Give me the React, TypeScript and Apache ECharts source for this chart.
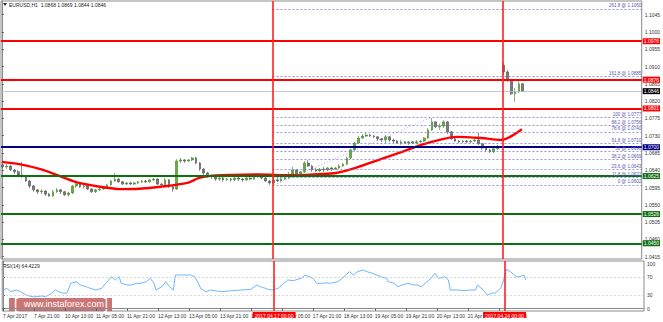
import React, { useEffect, useRef } from "react";
import * as echarts from "echarts";

const FONT = "'Liberation Sans', Arial, sans-serif";

// ---- axis / scale data ----
const X_MIN = -0.4; // hourly bar slots
const X_MAX = 331;
const PRICE_MIN = 1.0409;
const PRICE_MAX = 1.10807;
const RSI_MIN = -5.1;
const RSI_MAX = 106.7;

const priceTicks = [1.0415, 1.046, 1.0505, 1.055, 1.0595, 1.064, 1.0685, 1.073, 1.0775, 1.082, 1.0865, 1.091, 1.0955, 1.1, 1.1045];
const rsiTicks = [0, 30, 70, 100];
const timeLabelSlots = [0, 16, 32, 48, 64, 80, 96, 112, 128, 144, 160, 176, 192, 208, 224, 240, 256];
const timeLabels = [
  "7 Apr 2017", "7 Apr 21:00", "10 Apr 13:00", "11 Apr 05:00", "11 Apr 21:00", "12 Apr 13:00",
  "13 Apr 05:00", "13 Apr 21:00", "14 Apr 13:00", "17 Apr 05:00", "17 Apr 21:00", "18 Apr 13:00",
  "19 Apr 05:00", "19 Apr 21:00", "20 Apr 13:00", "21 Apr 05:00", "21 Apr 21:00",
];

// ---- header ----
const symbolTitle = "EURUSD,H1";
const lastBarOHLC = [1.0868, 1.0869, 1.0844, 1.0846];
const rsiTitle = "RSI(14) 64.4229";

// ---- candles: [open, close, low, high], 2-hour bars starting at slot 0 ----
const weekCandleStartSlot = 0;
const weekCandles = [
  [1.0654, 1.0649, 1.0646, 1.0656], [1.0649, 1.0651, 1.0643, 1.0656], [1.0651, 1.0641, 1.0638, 1.0654],
  [1.0641, 1.0636, 1.063, 1.0643], [1.0636, 1.0628, 1.0625, 1.0641], [1.0628, 1.0625, 1.062, 1.0662],
  [1.0625, 1.0612, 1.061, 1.0628], [1.0612, 1.0599, 1.0594, 1.0615], [1.0599, 1.0589, 1.0584, 1.0602],
  [1.0589, 1.0584, 1.0578, 1.0591], [1.0584, 1.0586, 1.0578, 1.0591], [1.0586, 1.0578, 1.0573, 1.0589],
  [1.0578, 1.0573, 1.0571, 1.0581], [1.0573, 1.0584, 1.0571, 1.0589], [1.0584, 1.0589, 1.0581, 1.0594],
  [1.0589, 1.0584, 1.0578, 1.0591], [1.0584, 1.0576, 1.0573, 1.0586], [1.0576, 1.0581, 1.0571, 1.0584],
  [1.0581, 1.0599, 1.0578, 1.0602], [1.0599, 1.0604, 1.0594, 1.0607], [1.0604, 1.0597, 1.0594, 1.0607],
  [1.0597, 1.0599, 1.0591, 1.0602], [1.0599, 1.0591, 1.0589, 1.0602], [1.0591, 1.0584, 1.0581, 1.0594],
  [1.0584, 1.0589, 1.0581, 1.0591], [1.0589, 1.0591, 1.0586, 1.0594], [1.0591, 1.0594, 1.0589, 1.0597],
  [1.0594, 1.0602, 1.0591, 1.0604], [1.0602, 1.0612, 1.0599, 1.0615], [1.0612, 1.0617, 1.061, 1.0633],
  [1.0617, 1.061, 1.0607, 1.062], [1.061, 1.0604, 1.0602, 1.0612], [1.0604, 1.0607, 1.0602, 1.061],
  [1.0607, 1.0604, 1.0602, 1.061], [1.0604, 1.0607, 1.0602, 1.061], [1.0607, 1.061, 1.0604, 1.0612],
  [1.061, 1.0612, 1.0607, 1.0615], [1.0612, 1.061, 1.0607, 1.0615], [1.061, 1.0615, 1.0607, 1.0617],
  [1.0615, 1.0617, 1.0612, 1.062], [1.0617, 1.0604, 1.0602, 1.062], [1.0604, 1.0602, 1.0597, 1.0607],
  [1.0602, 1.0615, 1.0599, 1.062], [1.0615, 1.0597, 1.0594, 1.0617], [1.0597, 1.0591, 1.0584, 1.0599],
  [1.0591, 1.0664, 1.0589, 1.0669], [1.0664, 1.0667, 1.0659, 1.0672], [1.0667, 1.0664, 1.0659, 1.0669],
  [1.0664, 1.0667, 1.0662, 1.0669], [1.0667, 1.0672, 1.0664, 1.0675], [1.0672, 1.0659, 1.0656, 1.0675],
  [1.0659, 1.0643, 1.0638, 1.0662], [1.0643, 1.0633, 1.0628, 1.0646], [1.0633, 1.0625, 1.062, 1.0636],
  [1.0625, 1.0623, 1.0617, 1.0628], [1.0623, 1.0617, 1.0612, 1.0625], [1.0617, 1.062, 1.0612, 1.0623],
  [1.062, 1.0615, 1.061, 1.0623], [1.0615, 1.0617, 1.0612, 1.062], [1.0617, 1.0615, 1.061, 1.062],
  [1.0615, 1.062, 1.0612, 1.0623], [1.062, 1.0617, 1.0612, 1.0623], [1.0617, 1.0615, 1.061, 1.062],
  [1.0615, 1.062, 1.0612, 1.0623], [1.062, 1.0617, 1.0615, 1.0623], [1.0617, 1.0623, 1.0615, 1.0628],
  [1.0623, 1.0625, 1.062, 1.0628], [1.0625, 1.062, 1.0617, 1.0628], [1.062, 1.0612, 1.061, 1.0623],
  [1.0612, 1.0607, 1.0602, 1.0615], [1.0607, 1.0615, 1.0604, 1.062], [1.0615, 1.0612, 1.061, 1.062],
  [1.0612, 1.0617, 1.061, 1.0623], [1.0617, 1.062, 1.0615, 1.0623], [1.062, 1.063, 1.0617, 1.0636],
  [1.063, 1.0641, 1.0625, 1.0649], [1.0641, 1.0628, 1.0625, 1.0643], [1.0628, 1.0636, 1.0623, 1.0638],
  [1.0636, 1.0659, 1.0633, 1.0664], [1.0659, 1.0651, 1.0649, 1.0667], [1.0651, 1.0641, 1.0636, 1.0654],
  [1.0641, 1.0638, 1.0636, 1.0646], [1.0638, 1.0643, 1.0636, 1.0646], [1.0643, 1.0641, 1.0636, 1.0649],
  [1.0641, 1.0646, 1.0638, 1.0649], [1.0646, 1.0643, 1.0638, 1.0649], [1.0643, 1.0646, 1.0641, 1.0649],
  [1.0646, 1.0651, 1.0643, 1.0656], [1.0651, 1.0656, 1.0649, 1.0659], [1.0656, 1.0672, 1.0654, 1.0675],
  [1.0672, 1.0693, 1.0669, 1.0696], [1.0693, 1.0711, 1.069, 1.0714], [1.0711, 1.0724, 1.0709, 1.0729],
  [1.0724, 1.0729, 1.0722, 1.0734], [1.0729, 1.0732, 1.0727, 1.0737], [1.0732, 1.0729, 1.0727, 1.0734],
  [1.0729, 1.0727, 1.0724, 1.0732], [1.0727, 1.0722, 1.0716, 1.0729], [1.0722, 1.0719, 1.0714, 1.0724],
  [1.0719, 1.0727, 1.0711, 1.0732], [1.0727, 1.0719, 1.0714, 1.0729], [1.0719, 1.0716, 1.0711, 1.0722],
  [1.0716, 1.0711, 1.0709, 1.0719], [1.0711, 1.0714, 1.0706, 1.0719], [1.0714, 1.0711, 1.0709, 1.0716],
  [1.0711, 1.0714, 1.0706, 1.0716], [1.0714, 1.0711, 1.0709, 1.0716], [1.0711, 1.0714, 1.0709, 1.0719],
  [1.0714, 1.0716, 1.0711, 1.0719], [1.0716, 1.0724, 1.0714, 1.0727], [1.0724, 1.0745, 1.0722, 1.075],
  [1.0745, 1.0766, 1.0742, 1.0776], [1.0766, 1.0753, 1.075, 1.0768], [1.0753, 1.0755, 1.0745, 1.0761],
  [1.0755, 1.0766, 1.075, 1.0771], [1.0766, 1.074, 1.0734, 1.0768], [1.074, 1.0722, 1.0719, 1.0742],
  [1.0722, 1.0716, 1.0714, 1.0724], [1.0716, 1.0714, 1.0711, 1.0719], [1.0714, 1.0716, 1.0711, 1.0719],
  [1.0716, 1.0714, 1.0711, 1.0719], [1.0714, 1.0716, 1.0711, 1.0719], [1.0716, 1.0719, 1.0714, 1.0722],
  [1.0719, 1.0709, 1.0706, 1.0737], [1.0709, 1.0698, 1.0693, 1.0711], [1.0698, 1.0693, 1.069, 1.0701],
  [1.0693, 1.0688, 1.0685, 1.0696], [1.0688, 1.0696, 1.0685, 1.0698], [1.0696, 1.0701, 1.0693, 1.0706],
];
const mondayCandleStartSlot = 259;
const mondayCandles = [
  [1.0914, 1.0896, 1.0888, 1.0919], [1.0896, 1.0875, 1.087, 1.0901], [1.0875, 1.0839, 1.0836, 1.0878],
  [1.0839, 1.0844, 1.0818, 1.0854], [1.0844, 1.0865, 1.0841, 1.0875], [1.0865, 1.0846, 1.0844, 1.0867],
];

// ---- moving average (red) ----
const maSlots = [0, 9, 20, 30, 40, 51, 61, 71, 82, 96, 102, 109, 119, 133, 149, 164, 173, 183, 195, 207, 217, 228, 235, 248, 258, 269];
const maValues = [1.0662, 1.0656, 1.0643, 1.0625, 1.0607, 1.0597, 1.0591, 1.0592, 1.0597, 1.0607, 1.062, 1.0626, 1.0628, 1.0629, 1.0627, 1.063, 1.0633, 1.0646, 1.0667, 1.0688, 1.0706, 1.0721, 1.0727, 1.0724, 1.0719, 1.0747];

// ---- RSI(14) ----
const rsiSlots = [0, 2, 4, 7, 9, 12, 15, 17, 20, 22, 25, 27, 30, 33, 35, 38, 40, 43, 45, 48, 51, 53, 56, 58, 60, 61, 64, 66, 69, 71, 74, 76, 78, 79, 82, 84, 86, 88, 89, 92, 97, 99, 101, 102, 105, 107, 113, 118, 123, 128, 131, 133, 137, 139, 142, 145, 147, 150, 151, 154, 156, 160, 162, 164, 167, 169, 173, 176, 179, 181, 183, 186, 188, 191, 195, 198, 199, 202, 204, 206, 209, 212, 214, 216, 218, 221, 223, 225, 228, 230, 231, 235, 238, 241, 244, 245, 248, 250, 253, 254, 256, 257, 258, 260, 262, 265, 267, 269, 270];
const rsiValues = [41.8, 45.6, 38, 42, 38, 30.6, 26.8, 26.8, 28.4, 26.8, 34.4, 41.8, 35.8, 34.4, 56.8, 60.4, 53, 49.2, 45.6, 41.8, 45.6, 56.8, 71.6, 64.2, 71.6, 56.8, 53, 53, 56.8, 56.8, 60.4, 68, 56.8, 41.8, 49.2, 60.4, 49.2, 41.8, 75.4, 75.4, 75.4, 71.6, 56.8, 45.6, 38, 41.8, 38, 40.3, 41.8, 43.4, 53, 49.2, 43.4, 41.8, 45.6, 56.8, 64.2, 62.7, 64.2, 68, 75.4, 68, 56.8, 56.8, 57.5, 57, 60.4, 71.6, 82.8, 75.4, 82.8, 86.6, 82.8, 79, 71.6, 68, 60.4, 56.8, 49.2, 53, 56.8, 53, 53, 49.2, 56.8, 68, 79, 68, 71.6, 64.2, 41.8, 41.8, 40.3, 41.8, 41.8, 53, 41.8, 30.6, 35.8, 34.4, 41.8, 45.6, 56.8, 88, 82.8, 71.6, 71.6, 75.4, 64.4];
const rsiLevels = [70, 30];

// ---- drawn objects ----
const resistanceLevels = [1.0976, 1.0876, 1.0801];
const pivotLevel = 1.07;
const supportLevels = [1.0625, 1.0526, 1.045];
const currentPrice = 1.0846;
const fibStartSlot = 140;
const fibRatios = [261.8, 161.8, 100, 88.2, 78.6, 61.8, 50, 38.2, 23.6, 11.8, 0];
const fibPrices = [1.106, 1.0885, 1.0777, 1.0756, 1.074, 1.071, 1.069, 1.0669, 1.0643, 1.0622, 1.0602];
const fibTrendFrom = [141, 1.0602];
const fibTrendTo = [222, 1.0777];
const sessionSlots = [140, 259];
const sessionLabels = ["2017.04.17 00:00", "2017.04.24 00:00"];

const toCandles = (rows: number[][], start: number) =>
  rows.map((r, i) => [start + 2 * i + 0.5, r[0], r[1], r[2], r[3]]);

const levelLine = (value: number, color: string, width: number, bg: string) => ({
  yAxis: value,
  lineStyle: { color, width, type: "solid" },
  label: {
    show: true,
    position: "end",
    formatter: value.toFixed(4),
    backgroundColor: bg,
    color: "#fff",
    fontSize: 5,
    fontFamily: FONT,
    padding: [1, 1, 0, 1],
    distance: 1,
  },
});

export default function App() {
  const ref = useRef<HTMLDivElement>(null);
  useEffect(() => {
    if (!ref.current) return;
    const chart = echarts.init(ref.current, undefined, { renderer: "svg" });
    const candleData = [
      ...toCandles(weekCandles, weekCandleStartSlot),
      ...toCandles(mondayCandles, mondayCandleStartSlot),
    ];
    const fibLines = fibRatios.map((r, i) => [
      {
        coord: [fibStartSlot, fibPrices[i]],
        lineStyle: { color: "#6b6bd0", width: 0.7, type: [2, 2] },
        label: {
          show: true,
          position: "insideEndTop",
          formatter: `${r} @ ${fibPrices[i].toFixed(4)}`,
          color: "#5656b4",
          fontSize: 4.5,
          fontFamily: FONT,
          distance: 0.5,
        },
      },
      { coord: [X_MAX, fibPrices[i]] },
    ]);
    const option: any = {
      animation: false,
      textStyle: { fontFamily: FONT },
      grid: [
        { left: 1, top: 1, width: 643, height: 258, show: true, borderColor: "#8a8a8a", borderWidth: 1, backgroundColor: "#fff" },
        { left: 1, top: 261, width: 643, height: 50, show: true, borderColor: "#8a8a8a", borderWidth: 1, backgroundColor: "#fff" },
      ],
      xAxis: [
        { type: "value", gridIndex: 0, min: X_MIN, max: X_MAX, show: false },
        {
          type: "value",
          gridIndex: 1,
          min: X_MIN,
          max: X_MAX,
          position: "bottom",
          axisLine: { show: true, lineStyle: { color: "#8a8a8a" } },
          axisTick: { show: true, customValues: timeLabelSlots, length: 2, lineStyle: { color: "#555" } },
          axisLabel: {
            show: true,
            customValues: timeLabelSlots,
            formatter: (v: number) => timeLabels[timeLabelSlots.indexOf(v)] ?? "",
            align: "left",
            fontSize: 5,
            color: "#333",
            margin: 2,
          },
          splitLine: { show: false },
        },
      ],
      yAxis: [
        {
          type: "value",
          gridIndex: 0,
          min: PRICE_MIN,
          max: PRICE_MAX,
          position: "right",
          axisLine: { show: true, lineStyle: { color: "#8a8a8a" } },
          axisTick: { show: true, customValues: priceTicks, length: 2, lineStyle: { color: "#555" } },
          axisLabel: { customValues: priceTicks, formatter: (v: number) => v.toFixed(4), fontSize: 5, color: "#333", margin: 3 },
          splitLine: { show: false },
        },
        {
          type: "value",
          gridIndex: 1,
          min: RSI_MIN,
          max: RSI_MAX,
          position: "right",
          axisLine: { show: true, lineStyle: { color: "#8a8a8a" } },
          axisTick: { show: true, customValues: rsiTicks, length: 2, lineStyle: { color: "#555" } },
          axisLabel: { customValues: rsiTicks, fontSize: 5, color: "#333", margin: 3 },
          splitLine: { show: false },
        },
      ],
      graphic: [
        { type: "polygon", shape: { points: [[3, 3], [7, 3], [5, 6]] }, style: { fill: "#333" } },
        {
          type: "text",
          x: 9,
          y: 2,
          style: { text: `${symbolTitle}  ${lastBarOHLC.map((v) => v.toFixed(4)).join(" ")}`, fontSize: 5, fill: "#222", fontFamily: FONT },
        },
        { type: "text", x: 3, y: 263, style: { text: rsiTitle, fontSize: 5, fill: "#222", fontFamily: FONT } },
        {
          type: "group",
          x: 9,
          y: 298,
          children: [
            { type: "rect", shape: { x: 0, y: 0, width: 103, height: 13 }, style: { fill: "rgba(192,88,88,0.82)" } },
            { type: "text", x: 5, y: -1.5, style: { text: "[", fontSize: 14, fill: "#fff", fontFamily: FONT } },
            { type: "text", x: 15, y: 1.5, style: { text: "www.instaforex.com", fontSize: 9, fill: "#fff", fontFamily: FONT } },
            { type: "text", x: 95, y: -1.5, style: { text: "]", fontSize: 14, fill: "#fff", fontFamily: FONT } },
          ],
        },
      ],
      series: [
        {
          type: "candlestick",
          xAxisIndex: 0,
          yAxisIndex: 0,
          data: candleData,
          barWidth: 2.2,
          itemStyle: { color: "#62b23a", color0: "#7a7a7a", borderColor: "#3f7f25", borderColor0: "#4a4a4a", borderWidth: 0.6 },
          z: 2,
        },
        {
          type: "line",
          xAxisIndex: 0,
          yAxisIndex: 0,
          data: maSlots.map((s, i) => [s, maValues[i]]),
          showSymbol: false,
          smooth: 0.3,
          lineStyle: { color: "#ff0000", width: 2.4 },
          z: 3,
          markLine: {
            silent: true,
            symbol: ["none", "none"],
            animation: false,
            precision: 4,
            data: [
              ...fibLines,
              [
                { coord: fibTrendFrom, lineStyle: { color: "#8a8ad0", width: 0.7, type: [1, 2] }, label: { show: false } },
                { coord: fibTrendTo },
              ],
              ...resistanceLevels.map((v) => levelLine(v, "#ff0000", 1.8, "#ff0000")),
              levelLine(pivotLevel, "#000080", 1.8, "#000080"),
              ...supportLevels.map((v) => levelLine(v, "#0f700f", 1.8, "#0f700f")),
              levelLine(currentPrice, "#b4bcc4", 0.8, "#000000"),
              ...sessionSlots.map((s) => ({ xAxis: s, lineStyle: { color: "#ff2020", width: 1.6, type: "solid" }, label: { show: false } })),
            ],
          },
        },
        {
          type: "line",
          xAxisIndex: 1,
          yAxisIndex: 1,
          data: rsiSlots.map((s, i) => [s, rsiValues[i]]),
          showSymbol: false,
          lineStyle: { color: "#4aa3ff", width: 0.8 },
          z: 3,
          markLine: {
            silent: true,
            symbol: ["none", "none"],
            animation: false,
            precision: 2,
            data: [
              ...rsiLevels.map((v) => ({ yAxis: v, lineStyle: { color: "#c4c4c4", width: 0.7, type: [2, 2] }, label: { show: false } })),
              ...sessionSlots.map((s, i) => ({
                xAxis: s,
                lineStyle: { color: "#ff2020", width: 1.6, type: "solid" },
                label: {
                  show: true,
                  position: "start",
                  formatter: sessionLabels[i],
                  backgroundColor: "#ff0000",
                  color: "#fff",
                  fontSize: 5,
                  fontFamily: FONT,
                  padding: [1, 2, 0, 2],
                  distance: 1,
                },
              })),
            ],
          },
        },
      ],
    };
    chart.setOption(option);
    return () => chart.dispose();
  }, []);
  return (
    <div
      ref={ref}
      style={{ position: "fixed", left: 0, top: 0, width: 663, height: 322, background: "#fff" }}
    />
  );
}
